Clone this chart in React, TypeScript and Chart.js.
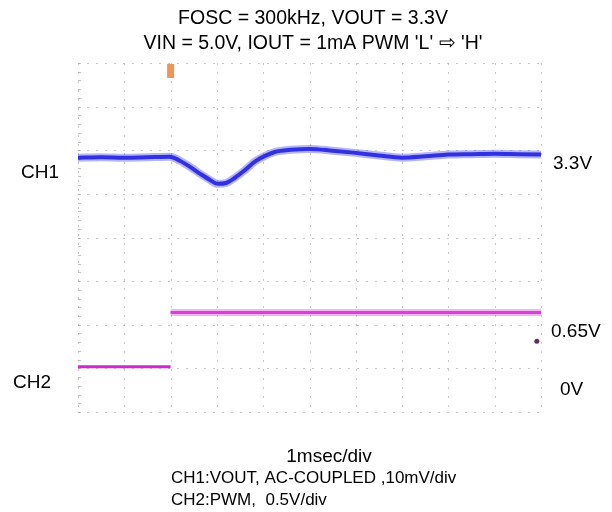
import React, { useEffect, useRef } from "react";
import { Chart, registerables } from "chart.js";

Chart.register(...registerables);

// Time axis: 1 msec/div, 10 divisions
const timeMin = 0;
const timeMax = 10;
const triggerTime = 2.0;

// CH1: VOUT deviation from 3.3V, AC coupled, mV (10 mV/div)
const ch1Time = [0, 0.5, 1, 1.5, 1.98, 2.2, 2.42, 2.64, 2.85, 3.02, 3.2, 3.39, 3.61, 3.82, 4.04, 4.25, 4.6, 5.0, 5.5, 6.0, 6.5, 7.0, 7.5, 8.0, 8.5, 9.0, 9.5, 10];
const ch1mV = [-0.2, -0.1, -0.2, -0.1, 0, -0.9, -2.3, -3.9, -5.3, -6.2, -6.0, -4.8, -3.0, -1.1, 0.2, 1.1, 1.6, 1.8, 1.4, 0.9, 0.3, -0.2, 0.1, 0.5, 0.6, 0.7, 0.6, 0.5];

// CH2: PWM, V (0.5 V/div)
const ch2LowTime = [0, 2.0];
const ch2LowV = [0, 0];
const ch2HighTime = [2.0, 10];
const ch2HighV = [0.62, 0.62];
const markTime = [9.91];
const markV = [0.29];

// Scale ranges (divisions)
const ch1Min = -58.5;
const ch1Max = 21.5;
const ch2Min = -0.52;
const ch2Max = 3.48;
const gridDivX = 10;
const gridDivY = 8;

const titleLines = ["FOSC = 300kHz, VOUT = 3.3V", "VIN = 5.0V, IOUT = 1mA PWM 'L' \u21E8 'H'"];
const footLines = ["1msec/div", "CH1:VOUT, AC-COUPLED ,10mV/div", "CH2:PWM,  0.5V/div"];
const leftLabels = ["CH1", "CH2"];
const rightLabels = ["3.3V", "0.65V", "0V"];

const FONT = "'Liberation Sans', Arial, sans-serif";

const pts = (xs: number[], ys: number[]) => xs.map((x, i) => ({ x, y: ys[i] }));

const scopePlugin = {
  id: "scopeDecor",
  beforeDatasetsDraw(chart: any) {
    const { ctx, chartArea, scales } = chart;
    const x = scales.x;
    const g = scales.grid;
    ctx.save();
    ctx.strokeStyle = "rgba(175,175,175,0.7)";
    ctx.lineWidth = 1;
    ctx.setLineDash([2, 7]);
    for (let i = 0; i <= gridDivX; i++) {
      const px = Math.round(x.getPixelForValue(timeMin + i)) + 0.5;
      ctx.beginPath();
      ctx.moveTo(px, chartArea.top);
      ctx.lineTo(px, chartArea.bottom);
      ctx.stroke();
    }
    for (let j = 0; j <= gridDivY; j++) {
      const py = Math.round(g.getPixelForValue(j)) + 0.5;
      ctx.beginPath();
      ctx.moveTo(chartArea.left, py);
      ctx.lineTo(chartArea.right, py);
      ctx.stroke();
    }
    ctx.setLineDash([]);
    // left edge minor ticks
    ctx.strokeStyle = "rgba(170,170,170,0.7)";
    for (let k = 0; k <= gridDivY * 5; k++) {
      const py = Math.round(g.getPixelForValue(k / 5)) + 0.5;
      ctx.beginPath();
      ctx.moveTo(chartArea.left, py);
      ctx.lineTo(chartArea.left + 3, py);
      ctx.stroke();
    }
    // trigger marker
    const tx = x.getPixelForValue(triggerTime);
    ctx.fillStyle = "rgba(232,140,70,0.9)";
    ctx.fillRect(tx - 3.5, chartArea.top + 1, 7, 14);
    ctx.restore();
  },
  afterDraw(chart: any) {
    const { ctx, scales } = chart;
    const y1 = scales.y1;
    const y2 = scales.y2;
    ctx.save();
    ctx.fillStyle = "#000";
    ctx.textBaseline = "middle";
    ctx.font = `19.5px ${FONT}`;
    ctx.textAlign = "center";
    ctx.fillText(titleLines[0], 313, 19);
    ctx.fillText(titleLines[1], 313, 44);
    ctx.font = `19px ${FONT}`;
    ctx.textAlign = "right";
    ctx.fillText(leftLabels[0], 59, y1.getPixelForValue(0) + 16);
    ctx.fillText(leftLabels[1], 51, y2.getPixelForValue(0) + 16);
    ctx.textAlign = "left";
    ctx.fillText(rightLabels[0], 553, y1.getPixelForValue(0) + 7);
    ctx.fillText(rightLabels[1], 551, y2.getPixelForValue(ch2HighV[0]) + 19);
    ctx.fillText(rightLabels[2], 560, y2.getPixelForValue(0) + 23);
    ctx.font = `19px ${FONT}`;
    ctx.textAlign = "center";
    ctx.fillText(footLines[0], 329, 457);
    ctx.font = `17px ${FONT}`;
    ctx.textAlign = "left";
    ctx.fillText(footLines[1], 171, 478);
    ctx.fillText(footLines[2], 171, 500);
    ctx.restore();
  },
};

export default function App() {
  const ref = useRef<HTMLCanvasElement | null>(null);
  useEffect(() => {
    if (!ref.current) return;
    const chart = new Chart(ref.current, {
      type: "line",
      data: {
        datasets: [
          {
            label: "CH1 band",
            data: pts(ch1Time, ch1mV),
            yAxisID: "y1",
            borderColor: "rgba(70,70,245,0.4)",
            borderWidth: 8,
            pointRadius: 0,
            cubicInterpolationMode: "monotone",
          },
          {
            label: "CH1",
            data: pts(ch1Time, ch1mV),
            yAxisID: "y1",
            borderColor: "rgb(35,35,210)",
            borderWidth: 4,
            pointRadius: 0,
            cubicInterpolationMode: "monotone",
          },
          {
            label: "CH2 low",
            data: pts(ch2LowTime, ch2LowV),
            yAxisID: "y2",
            borderColor: "rgb(205,40,205)",
            borderWidth: 3,
            pointRadius: 0,
          },
          {
            label: "CH2 high band",
            data: pts(ch2HighTime, ch2HighV),
            yAxisID: "y2",
            borderColor: "rgba(230,90,230,0.45)",
            borderWidth: 7,
            pointRadius: 0,
          },
          {
            label: "CH2 high",
            data: pts(ch2HighTime, ch2HighV),
            yAxisID: "y2",
            borderColor: "rgb(200,45,200)",
            borderWidth: 3,
            pointRadius: 0,
          },
          {
            label: "mark",
            data: pts(markTime, markV),
            yAxisID: "y2",
            showLine: false,
            pointRadius: 2.5,
            pointBackgroundColor: "rgb(90,50,90)",
            pointBorderWidth: 0,
          },
        ],
      },
      options: {
        responsive: false,
        animation: false,
        events: [],
        layout: { padding: { left: 78, right: 71, top: 63, bottom: 100 } },
        plugins: { legend: { display: false }, tooltip: { enabled: false }, title: { display: false } },
        scales: {
          x: { type: "linear", axis: "x", position: "bottom", min: timeMin, max: timeMax, display: false },
          y1: { type: "linear", axis: "y", position: "left", min: ch1Min, max: ch1Max, display: false },
          y2: { type: "linear", axis: "y", position: "left", min: ch2Min, max: ch2Max, display: false },
          grid: { type: "linear", axis: "y", position: "left", min: 0, max: gridDivY, display: false },
        },
      },
      plugins: [scopePlugin],
    });
    return () => chart.destroy();
  }, []);
  return (
    <div style={{ position: "absolute", left: 0, top: 0, width: 612, height: 512, background: "#fff" }}>
      <canvas ref={ref} width={612} height={512} />
    </div>
  );
}
